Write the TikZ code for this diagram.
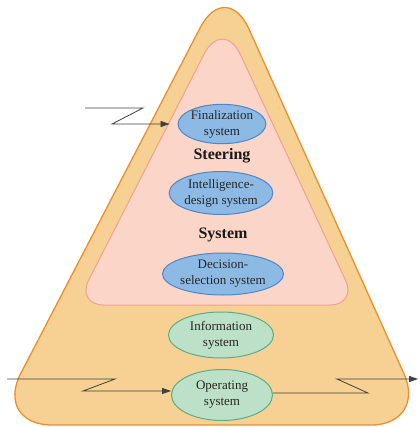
\documentclass[tikz,border=0pt]{standalone}
\usepackage{fontspec}
\setmainfont{Liberation Serif}
\usetikzlibrary{shapes.geometric,arrows.meta}
\definecolor{outerfill}{HTML}{F6D193}
\definecolor{outerline}{HTML}{EE8E2A}
\definecolor{innerfill}{HTML}{FBD5C7}
\definecolor{innerline}{HTML}{F2A08F}
\definecolor{bluefill}{HTML}{8DBAE5}
\definecolor{blueline}{HTML}{4F86C6}
\definecolor{greenfill}{HTML}{BDE0C8}
\definecolor{greenline}{HTML}{5AAE86}
\definecolor{arrowgray}{HTML}{404040}
\tikzset{
  sysblue/.style={ellipse, draw=blueline, fill=bluefill, line width=1pt, inner sep=0pt, align=center, font=\fontsize{13}{16}\selectfont, text=black!85},
  sysgreen/.style={ellipse, draw=greenline, fill=greenfill, line width=1pt, inner sep=0pt, align=center, font=\fontsize{13}{16}\selectfont, text=black!85},
  biglabel/.style={font=\fontsize{16}{19}\selectfont\bfseries, text=black!90},
  flow/.style={draw=arrowgray, line width=0.8pt, -{Triangle[length=9pt,width=6pt]}}
}
\begin{document}
\begin{tikzpicture}[x=1pt,y=-1pt]
\useasboundingbox (0,0) rectangle (419,427);
% outer rounded triangle
\filldraw[fill=outerfill, draw=outerline, line width=1.3pt]
  (210,425) [rounded corners=58pt] -- (-6,425) [rounded corners=56pt] -- (226,-22) [rounded corners=56pt] -- (427,425) -- cycle;
% inner rounded triangle
\filldraw[fill=innerfill, draw=innerline, line width=1pt]
  (220,305) [rounded corners=28pt] -- (76,305) [rounded corners=42pt] -- (223,17) [rounded corners=27pt] -- (357,305) -- cycle;
% nodes
\node[sysblue, minimum width=85pt, minimum height=38pt] (fin) at (222,124) {Finalization\\system};
\node[biglabel] (steer) at (222,156) {Steering};
\node[sysblue, minimum width=99pt, minimum height=43pt] (int) at (221,193) {Intelligence-\\design system};
\node[biglabel] (sys) at (223,235) {System};
\node[sysblue, minimum width=104pt, minimum height=42pt] (dec) at (223,274) {Decision-\\selection system};
\node[sysgreen, minimum width=105pt, minimum height=46pt] (inf) at (221,335) {Information\\system};
\node[sysgreen, minimum width=101pt, minimum height=51pt] (op) at (222,395) {Operating\\system};
% arrow coordinates
\coordinate (a0) at (85,108);
\coordinate (a1) at (143,108);
\coordinate (a2) at (112,124);
\coordinate (b0) at (7,379);
\coordinate (b1) at (115,379);
\coordinate (b2) at (83,391);
\coordinate (c1) at (368,393);
\coordinate (c2) at (337,379);
\coordinate (c3) at (418,379);
% arrows
\draw[flow, shorten >=8pt] (a0) -- (a1) -- (a2) -- (fin.west);
\draw[flow] (b0) -- (b1) -- (b2) -- (b2 -| op.west);
\draw[flow] (op.east |- c1) -- (c1) -- (c2) -- (c3);
\end{tikzpicture}
\end{document}
